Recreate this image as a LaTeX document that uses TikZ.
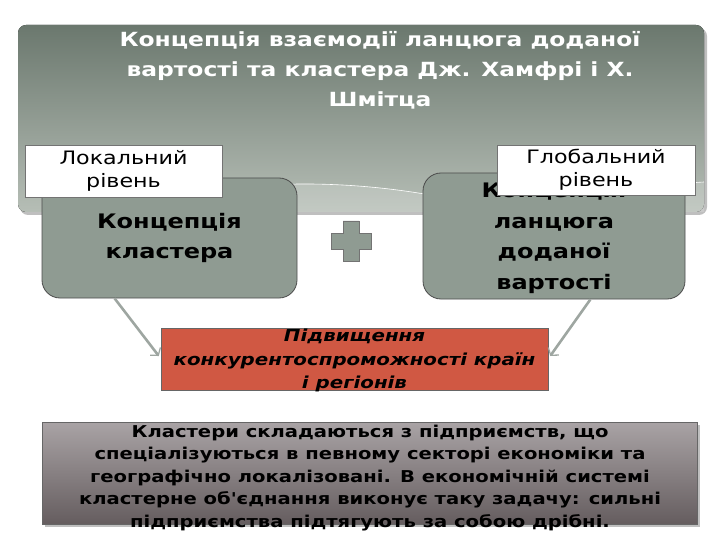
\documentclass[tikz,border=0pt]{standalone}
\usepackage{fontspec}
\setmainfont{DejaVu Sans}[FakeStretch=1.2, Ligatures=TeXOff]
\usetikzlibrary{positioning,arrows.meta,shadows}

\definecolor{boxgray}{HTML}{8F9B92}
\definecolor{bannertop}{HTML}{6B786E}
\definecolor{bannerbot}{HTML}{B6BEB6}
\definecolor{redbox}{HTML}{D05843}
\definecolor{notetop}{HTML}{A9A3A5}
\definecolor{notebot}{HTML}{655D5F}
\definecolor{arrowgray}{HTML}{9EA6A1}

\tikzset{
  concept/.style={draw=black!70, line width=0.8pt, fill=boxgray, rounded corners=18pt,
    align=center, inner sep=0pt, font=\fontsize{20}{30.5}\selectfont\bfseries},
  levelbox/.style={draw=black!55, fill=white, align=center, inner sep=0pt,
    font=\fontsize{18.5}{23}\selectfont},
  link/.style={draw=arrowgray, line width=2.6pt,
    -{Straight Barb[length=5pt,width=13pt,line width=1.3pt]}},
}

\begin{document}
\begin{tikzpicture}[x=1pt,y=-1pt]
\useasboundingbox (0,0) rectangle (720,540);
% banner
\fill[black!25, rounded corners=8pt] (20,28) rectangle (707,215);
\fill[top color=bannertop, bottom color=bannerbot, rounded corners=8pt] (18,25) rectangle (704,212);
\fill[white, opacity=0.18] (217,191) .. controls (300,176) and (420,186) .. (500,212)
  -- (580,212) .. controls (620,196) and (670,186) .. (704,182) -- (704,212) -- (217,212) -- cycle;
\draw[white, line width=0.6pt] (217,191) .. controls (300,176) and (420,186) .. (500,212);
\draw[white, line width=0.6pt] (567,198) .. controls (620,188) and (670,184) .. (704,182);
\node[text=white, align=center, font=\fontsize{19.5}{30}\selectfont\bfseries] (title) at (380,70)
  {Концепція взаємодії ланцюга доданої\\вартості та кластера Дж. Хамфрі і Х.\\Шмітца};

% two concepts
\node[concept, minimum width=255pt, minimum height=120pt] (cluster) at (169.5,238)
  {Концепція\\кластера};
\node[concept, minimum width=262pt, minimum height=126pt, text depth=0pt] (chain) at (554,236)
  {Концепція\\ланцюга\\доданої\\вартості};
\node[levelbox, minimum width=197pt, minimum height=52pt] (local) at (123.5,171)
  {Локальний\\рівень};
\node[levelbox, minimum width=198pt, minimum height=50pt] (global) at (596,170)
  {Глобальний\\рівень};

% plus
\draw[fill=boxgray, draw=black!55, line width=0.6pt]
  (343,221) -- (359,221) -- (359,233) -- (371,233) -- (371,249) -- (359,249)
  -- (359,261) -- (343,261) -- (343,249) -- (331,249) -- (331,233) -- (343,233) -- cycle;

% result
\node[draw=black!60, fill=redbox, minimum width=387pt, minimum height=62pt, inner sep=0pt,
  text depth=0pt, align=center, font=\fontsize{16.5}{23.5}\selectfont\bfseries\itshape]
  (result) at (354.5,359) {Підвищення\\конкурентоспроможності країн\\і регіонів};
\draw[link] ([xshift=73pt]cluster.south west) -- ([xshift=-2pt,yshift=3pt]result.west);
\draw[link] ([xshift=-95pt]chain.south east) -- ([xshift=2pt,yshift=3pt]result.east);

% note
\node[draw=black!60, top color=notetop, bottom color=notebot, drop shadow,
  minimum width=655pt, minimum height=102pt] (note) at (369.5,473) {};
\node[align=center, font=\fontsize{16.3}{22.5}\selectfont\bfseries] (notetext) at (370,478)
  {Кластери складаються з підприємств, що\\спеціалізуються в певному секторі економіки та\\
   географічно локалізовані. В економічній системі\\кластерне об'єднання виконує таку задачу: сильні\\
   підприємства підтягують за собою дрібні.};
\end{tikzpicture}
\end{document}
